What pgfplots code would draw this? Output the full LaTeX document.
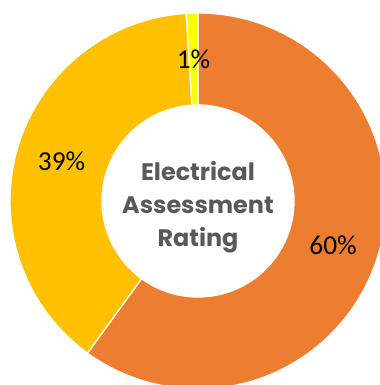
\documentclass[border=0pt]{standalone}
\usepackage{pgfplots}
\usepackage{pgfplotstable}
\pgfplotsset{compat=1.18}
\usepackage{fontspec}
\setmainfont{Carlito}
\newfontfamily\poppins{Poppins}
\definecolor{cOrange}{HTML}{ED7D31}
\definecolor{cGold}{HTML}{FFC000}
\definecolor{cYellow}{HTML}{FFFF00}
\definecolor{cText}{HTML}{595959}

\pgfplotstableread{
idx value
0 60
1 39
2 1
}\datatable

\pgfplotstablegetelem{0}{value}\of\datatable \let\va\pgfplotsretval
\pgfplotstablegetelem{1}{value}\of\datatable \let\vb\pgfplotsretval
\pgfplotstablegetelem{2}{value}\of\datatable \let\vc\pgfplotsretval
\pgfmathsetmacro\aA{90}
\pgfmathsetmacro\aB{\aA-3.6*\va}
\pgfmathsetmacro\aC{\aB-3.6*\vb}
\pgfmathsetmacro\aD{\aC-3.6*\vc}
\pgfmathsetmacro\mA{(\aA+\aB)/2}
\pgfmathsetmacro\mB{(\aB+\aC)/2}
\pgfmathsetmacro\mC{(\aC+\aD)/2}

\newcommand\slice[3]{%
  \filldraw[fill=#3, draw=white, line width=1.3bp]
    (axis cs:0,0) ++(#1:188bp) arc[start angle=#1, end angle=#2, radius=188bp]
    -- ++(#2:-92bp) arc[start angle=#2, end angle=#1, radius=96bp] -- cycle;}

\begin{document}
\begin{tikzpicture}
\begin{axis}[
  scale only axis, width=380bp, height=385bp,
  xmin=-198, xmax=182, ymin=-184, ymax=201,
  hide axis, clip=true,
]
\path (rel axis cs:0,0) rectangle (rel axis cs:1,1);
\slice{\aA}{\aB}{cOrange}
\slice{\aB}{\aC}{cGold}
\slice{\aC}{\aD}{cYellow}
\node[font=\fontsize{27.5}{30}\selectfont] at (axis cs:0,0) [shift={(\mA:142bp)}] {\va\%};
\node[font=\fontsize{27.5}{30}\selectfont] at (axis cs:0,0) [shift={(\mB:142bp)}] {\vb\%};
\node[font=\fontsize{27.5}{30}\selectfont] at (axis cs:0,0) [shift={(\mC:142bp)}] {\vc\%};
\node[align=center, text=cText, font=\poppins\bfseries\fontsize{24}{33}\selectfont] at (axis cs:0,-6) {Electrical\\Assessment\\Rating};
\end{axis}
\end{tikzpicture}
\end{document}
